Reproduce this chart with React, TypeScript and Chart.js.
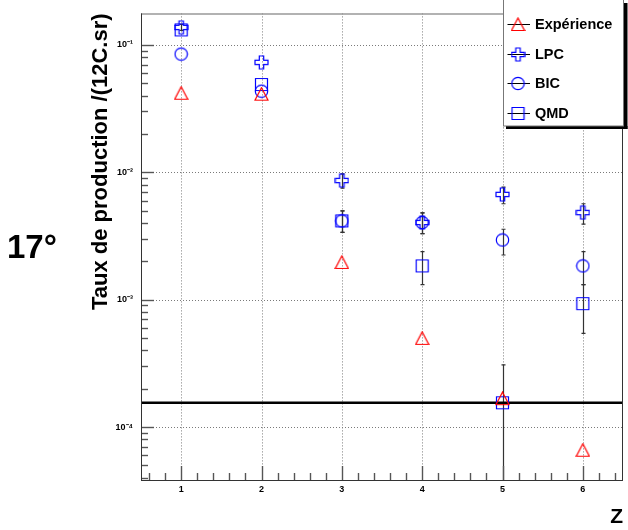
import React, { useEffect, useRef } from 'react';
import { Chart, registerables } from 'chart.js';

Chart.register(...registerables);

const zCategories = [1, 2, 3, 4, 5, 6];
const seriesLabels = ['Expérience', 'LPC', 'BIC', 'QMD'];
const experienceValues = [0.0417, 0.041, 0.00196, 0.000497, 0.000167, 0.0000658];
const lpcValues = [0.137, 0.0729, 0.00861, 0.00403, 0.0067, 0.00482];
const bicValues = [0.0846, 0.0433, 0.00415, 0.00403, 0.00294, 0.00184];
const qmdValues = [0.131, 0.0488, 0.00415, 0.00184, 0.000155, 0.00093];
const lpcErrLow = [0.13, null, 0.0075, 0.0033, 0.00566, 0.00391];
const lpcErrHigh = [0.145, null, 0.0097, 0.0048, 0.00764, 0.00566];
const bicErrLow = [null, null, 0.00337, 0.0033, 0.00224, 0.00131];
const bicErrHigh = [null, null, 0.00497, 0.0048, 0.00357, 0.00238];
const qmdErrLow = [null, null, 0.00337, 0.00131, 0.00001, 0.000543];
const qmdErrHigh = [null, null, 0.00497, 0.00238, 0.000308, 0.00131];
const referenceLevel = 0.000155;
const xMin = 0.5;
const xMax = 6.5;
const yMin = 3.84e-5;
const yMax = 0.1765;
const xTickValues = [1, 2, 3, 4, 5, 6];
const xTickLabels = ['1', '2', '3', '4', '5', '6'];
const yTickValues = [1e-4, 1e-3, 1e-2, 1e-1];
const yTickLabels = ['10⁻⁴', '10⁻³', '10⁻²', '10⁻¹'];
const yAxisTitle = 'Taux de production /(12C.sr)';
const xAxisTitle = 'Z';
const angleLabel = '17°';

const FONT = '"Liberation Sans", Arial, Helvetica, sans-serif';
const RED = '#ff0000';
const BLUE = '#0000ff';

function makeMarker(kind: string, color: string): HTMLCanvasElement {
  const s = 15;
  const c = document.createElement('canvas');
  c.width = s;
  c.height = s;
  const g = c.getContext('2d')!;
  g.strokeStyle = color;
  g.lineWidth = 1.2;
  const m = 7.5;
  g.beginPath();
  if (kind === 'triangle') {
    g.moveTo(m, 1);
    g.lineTo(14, 13.5);
    g.lineTo(1, 13.5);
    g.closePath();
  } else if (kind === 'circle') {
    g.arc(m, m, 6.2, 0, Math.PI * 2);
  } else if (kind === 'square') {
    g.rect(1.5, 1.5, 12, 12);
  } else {
    const a = 6.5;
    const b = 2.2;
    const pts = [[-b, -a], [b, -a], [b, -b], [a, -b], [a, b], [b, b], [b, a], [-b, a], [-b, b], [-a, b], [-a, -b], [-b, -b]];
    pts.forEach(([px, py], i) => (i ? g.lineTo(m + px, m + py) : g.moveTo(m + px, m + py)));
    g.closePath();
  }
  g.stroke();
  return c;
}

export default function App() {
  const ref = useRef<HTMLCanvasElement | null>(null);

  useEffect(() => {
    document.body.style.margin = '0';
    const canvas = ref.current!;
    const markers = [
      makeMarker('triangle', RED),
      makeMarker('cross', BLUE),
      makeMarker('circle', BLUE),
      makeMarker('square', BLUE),
    ];
    const seriesValues = [experienceValues, lpcValues, bicValues, qmdValues];
    const errLows: any[] = [null, lpcErrLow, bicErrLow, qmdErrLow];
    const errHighs: any[] = [null, lpcErrHigh, bicErrHigh, qmdErrHigh];

    const datasets: any[] = seriesValues.map((vals, k) => ({
      label: seriesLabels[k],
      data: zCategories.map((z, i) => ({ x: z, y: vals[i] })),
      pointStyle: markers[k],
      showLine: false,
    }));
    datasets.push({
      label: 'reference',
      data: [
        { x: xMin, y: referenceLevel },
        { x: xMax, y: referenceLevel },
      ],
      showLine: true,
      borderColor: '#000',
      borderWidth: 2.6,
      pointRadius: 0,
      pointHoverRadius: 0,
    });

    const line = (ctx: CanvasRenderingContext2D, x1: number, y1: number, x2: number, y2: number) => {
      ctx.beginPath();
      ctx.moveTo(x1, y1);
      ctx.lineTo(x2, y2);
      ctx.stroke();
    };

    const plugin = {
      id: 'rootStyle',
      beforeDatasetsDraw(chart: any) {
        const { ctx, chartArea: a, scales } = chart;
        const x = scales.x;
        const y = scales.y;
        ctx.save();
        ctx.strokeStyle = '#7a7a7a';
        ctx.lineWidth = 1;
        ctx.setLineDash([1, 2]);
        xTickValues.forEach((v) => {
          const px = Math.round(x.getPixelForValue(v)) + 0.5;
          line(ctx, px, a.top, px, a.bottom);
        });
        yTickValues.forEach((v) => {
          const py = Math.round(y.getPixelForValue(v)) + 0.5;
          line(ctx, a.left, py, a.right, py);
        });
        ctx.setLineDash([]);
        ctx.beginPath();
        ctx.rect(a.left, a.top, a.right - a.left, a.bottom - a.top);
        ctx.clip();
        ctx.strokeStyle = '#333';
        ctx.lineWidth = 1.2;
        for (let k = 0; k < 4; k++) {
          const lo = errLows[k];
          const hi = errHighs[k];
          if (!lo || !hi) continue;
          for (let i = 0; i < zCategories.length; i++) {
            const l = lo[i];
            const h = hi[i];
            if (l == null || h == null) continue;
            const px = Math.round(x.getPixelForValue(zCategories[i])) + 0.5;
            const pl = y.getPixelForValue(l);
            const ph = y.getPixelForValue(h);
            line(ctx, px, pl, px, ph);
            line(ctx, px - 2, pl, px + 2, pl);
            line(ctx, px - 2, ph, px + 2, ph);
          }
        }
        ctx.restore();
      },
      afterDatasetsDraw(chart: any) {
        const { ctx, chartArea: a, scales } = chart;
        const x = scales.x;
        const y = scales.y;
        ctx.save();
        ctx.strokeStyle = '#555';
        ctx.lineWidth = 1.4;
        for (let n = -5; n <= 0; n++) {
          for (let k = 1; k <= 9; k++) {
            const v = k * Math.pow(10, n);
            if (v < yMin || v > yMax) continue;
            const py = Math.round(y.getPixelForValue(v)) + 0.5;
            line(ctx, a.left, py, a.left + (k === 1 ? 13 : 7), py);
          }
        }
        for (let t = 3; t <= 32; t++) {
          const v = t * 0.2;
          if (v < xMin || v > xMax) continue;
          const px = Math.round(x.getPixelForValue(v)) + 0.5;
          const major = t % 5 === 0;
          line(ctx, px, a.bottom, px, a.bottom - (major ? 14 : 7));
        }
        ctx.strokeStyle = '#999';
        ctx.lineWidth = 1.5;
        line(ctx, a.left, a.top + 0.5, a.right, a.top + 0.5);
        ctx.lineWidth = 1;
        ctx.strokeStyle = '#333';
        line(ctx, a.left + 0.5, a.top, a.left + 0.5, a.bottom);
        line(ctx, a.left, a.bottom + 0.5, a.right, a.bottom + 0.5);
        line(ctx, a.right - 0.5, a.top, a.right - 0.5, a.bottom);
        ctx.restore();
      },
      afterDraw(chart: any) {
        const { ctx } = chart;
        ctx.save();
        const bx = 503;
        const by = 0;
        const bw = 121;
        const bh = 126;
        ctx.fillStyle = '#000';
        ctx.fillRect(bx + bw, by + 3, 3.5, bh);
        ctx.fillRect(bx + 3, by + bh, bw + 0.5, 3);
        ctx.fillStyle = '#fff';
        ctx.fillRect(bx, by, bw, bh);
        ctx.strokeStyle = '#777';
        ctx.lineWidth = 1;
        ctx.strokeRect(bx + 0.5, by - 1, bw - 1, bh + 1);
        const rows = [24, 54, 83, 112.5];
        ctx.font = `bold 14.5px ${FONT}`;
        ctx.textBaseline = 'middle';
        ctx.textAlign = 'left';
        seriesLabels.forEach((label, k) => {
          const ry = rows[k];
          ctx.strokeStyle = '#000';
          ctx.lineWidth = 1;
          line(ctx, 507.5, Math.round(ry) + 0.5, 530, Math.round(ry) + 0.5);
          const img = markers[k];
          ctx.drawImage(img, 518 - img.width / 2, Math.round(ry) + 0.5 - img.height / 2);
          ctx.fillStyle = '#000';
          ctx.fillText(label, 535, ry + 1);
        });
        ctx.font = `bold 33px ${FONT}`;
        ctx.textBaseline = 'alphabetic';
        ctx.fillStyle = '#000';
        ctx.fillText(angleLabel, 7, 258);
        ctx.restore();
      },
    };

    const chart = new Chart(canvas, {
      type: 'scatter',
      data: { datasets },
      plugins: [plugin],
      options: {
        animation: false,
        responsive: false,
        maintainAspectRatio: false,
        events: [],
        layout: { padding: { top: 10, right: 3, left: 0, bottom: 0 } },
        plugins: { legend: { display: false }, tooltip: { enabled: false } },
        scales: {
          x: {
            type: 'linear',
            min: xMin,
            max: xMax,
            afterBuildTicks: (s: any) => {
              s.ticks = xTickValues.map((v) => ({ value: v }));
            },
            afterFit: (s: any) => {
              s.height = 50;
            },
            ticks: {
              callback: (v: any) => {
                const i = xTickValues.indexOf(Number(v));
                return i >= 0 ? xTickLabels[i] : '';
              },
              font: { family: FONT, size: 9, weight: 'bold' },
              color: '#000',
              padding: 4,
              maxRotation: 0,
              autoSkip: false,
            },
            grid: { display: false, drawTicks: false },
            border: { display: false },
            title: {
              display: true,
              text: xAxisTitle,
              align: 'end',
              color: '#000',
              font: { family: FONT, size: 21, weight: 'bold' },
              padding: 0,
            },
          },
          y: {
            type: 'logarithmic',
            min: yMin,
            max: yMax,
            afterBuildTicks: (s: any) => {
              s.ticks = yTickValues.map((v) => ({ value: v }));
            },
            afterFit: (s: any) => {
              s.width = 141;
            },
            ticks: {
              callback: (v: any) => {
                const i = yTickValues.findIndex((t) => Math.abs(t - Number(v)) / t < 1e-6);
                return i >= 0 ? yTickLabels[i] : '';
              },
              font: { family: FONT, size: 9, weight: 'bold' },
              color: '#000',
              padding: 8,
              autoSkip: false,
            },
            grid: { display: false, drawTicks: false },
            border: { display: false },
            title: {
              display: true,
              text: yAxisTitle,
              align: 'end',
              color: '#000',
              font: { family: FONT, size: 22, weight: 'bold' },
              padding: { top: 88, bottom: 0 },
            },
          },
        },
      } as any,
    });
    return () => chart.destroy();
  }, []);

  return (
    <div style={{ width: 628, height: 530, position: 'relative', background: '#fff' }}>
      <canvas ref={ref} width={628} height={530} style={{ display: 'block', width: 628, height: 530 }} />
    </div>
  );
}
